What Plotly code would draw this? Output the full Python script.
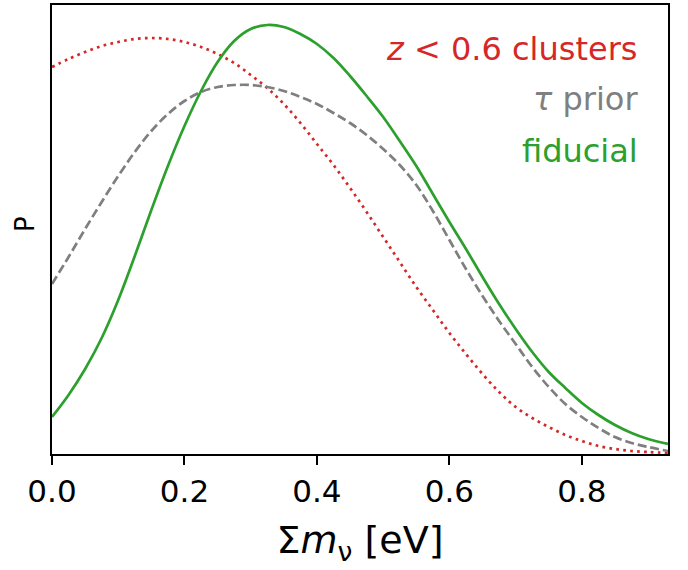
import plotly.graph_objects as go

x_vals = [0.0, 0.025, 0.05, 0.075, 0.1, 0.125, 0.15, 0.175, 0.2, 0.225, 0.25, 0.275,
          0.3, 0.325, 0.35, 0.375, 0.4, 0.425, 0.45, 0.475, 0.5, 0.525, 0.55, 0.575,
          0.6, 0.625, 0.65, 0.675, 0.7, 0.725, 0.75, 0.775, 0.8, 0.825, 0.85, 0.875,
          0.9, 0.93]

p_clusters = [387, 395, 402, 408, 412, 415, 416, 415, 412, 407, 400, 391,
              379, 366, 350, 331, 310, 289, 266, 242, 217, 192, 167, 144,
              121, 100, 80, 62, 47, 36, 27, 19, 13, 8, 5, 3, 2, 1]

p_tau = [170, 197, 225, 252, 278, 302, 323, 340, 353, 362, 367, 369,
         369, 367, 363, 357, 350, 341, 331, 319, 305, 289, 269, 243,
         214, 185, 158, 133, 110, 87, 67, 50, 37, 26, 17, 11, 7, 3]

p_fiducial = [37, 59, 85, 116, 154, 198, 244, 288, 328, 363, 392, 413,
              425, 429, 427, 420, 410, 396, 378, 358, 337, 313, 288, 260,
              232, 205, 177, 150, 125, 102, 82, 66, 51, 39, 29, 21, 15, 10]

x_ticks = [0.0, 0.2, 0.4, 0.6, 0.8]
labels = ["<i>z</i> &lt; 0.6 clusters", "<i>τ</i> prior", "fiducial"]

RED = "#d62728"
GRAY = "#7f7f7f"
GREEN = "#2ca02c"

fig = go.Figure()
fig.add_trace(go.Scatter(x=x_vals, y=p_clusters, mode="lines", line_shape="spline",
                         line=dict(color=RED, width=2.7, dash="2.7px,4.3px")))
fig.add_trace(go.Scatter(x=x_vals, y=p_tau, mode="lines", line_shape="spline",
                         line=dict(color=GRAY, width=2.7, dash="9px,4px")))
fig.add_trace(go.Scatter(x=x_vals, y=p_fiducial, mode="lines", line_shape="spline",
                         line=dict(color=GREEN, width=2.7)))

ann_y = [0.903, 0.790, 0.674]
for lab, col, yy in zip(labels, [RED, GRAY, GREEN], ann_y):
    fig.add_annotation(text=lab, x=0.955, y=yy, xref="paper", yref="paper",
                       xanchor="right", yanchor="middle", showarrow=False,
                       font=dict(size=32, color=col, family="DejaVu Sans"))

# y-axis label "P"
fig.add_annotation(text="P", x=-0.044, y=0.512, xref="paper", yref="paper",
                   xanchor="center", yanchor="middle", showarrow=False, textangle=-90,
                   font=dict(size=26, color="black", family="DejaVu Sans"))

fig.update_layout(
    width=688, height=570,
    margin=dict(l=52, r=20, t=5, b=116),
    paper_bgcolor="white", plot_bgcolor="white",
    showlegend=False,
    font=dict(family="DejaVu Sans", color="black"),
)
fig.update_xaxes(
    range=[0, 0.93], tickvals=x_ticks, tickformat=".1f",
    ticks="outside", ticklen=9, tickwidth=2, tickcolor="black",
    tickfont=dict(size=31, color="black"),
    showline=True, linecolor="black", linewidth=2, mirror=True,
    showgrid=False, zeroline=False, automargin=False,
    title=dict(text="Σ<i>m</i><sub>ν</sub> [eV]", font=dict(size=38), standoff=18),
)
fig.update_yaxes(
    range=[0, 449], showticklabels=False, ticks="",
    showline=True, linecolor="black", linewidth=2, mirror=True,
    showgrid=False, zeroline=False, automargin=False,
)

fig.write_html("out.html", config={"displayModeBar": False},
               post_script="document.body.style.margin='0';")
